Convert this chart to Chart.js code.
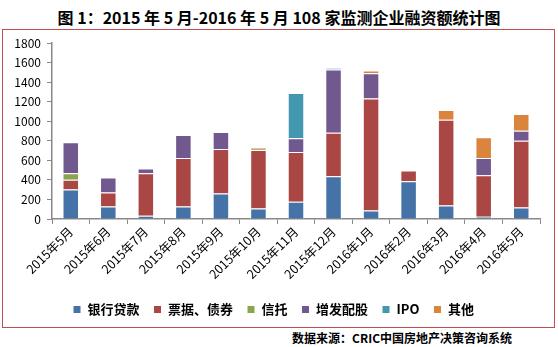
<!DOCTYPE html>
<html>
<head>
<meta charset="utf-8">
<script src="https://cdn.jsdelivr.net/npm/chart.js@4.4.1/dist/chart.umd.min.js"></script>
<style>
  body { margin: 0; background: #fff; width: 558px; height: 347px; position: relative; overflow: hidden; }
  #title { position: absolute; left: 0; top: 5px; width: 558px; text-align: center;
           font: bold 16px "Noto Sans CJK SC", sans-serif; color: #000; }
  #box { position: absolute; left: 2px; top: 29px; width: 551px; height: 297px; border: 1px solid #c0504d; }
  #source { position: absolute; right: 46px; top: 329px;
            font: bold 12px "Noto Sans CJK SC", sans-serif; color: #000; }
</style>
</head>
<body>
<div id="title">图 1：2015 年 5 月-2016 年 5 月 108 家监测企业融资额统计图</div>
<div id="box"><canvas id="myChart" width="551" height="297"></canvas></div>
<div id="source">数据来源：CRIC中国房地产决策咨询系统</div>
<script>
//categories
const months = ['2015年5月', '2015年6月', '2015年7月', '2015年8月', '2015年9月', '2015年10月', '2015年11月',
    '2015年12月', '2016年1月', '2016年2月', '2016年3月', '2016年4月', '2016年5月'];

//series values
const bankLoans = [303, 128, 34, 128, 262, 107, 176, 438, 86, 386, 138, 24, 117];
const bonds = [100, 144, 435, 496, 455, 600, 510, 445, 1148, 110, 879, 424, 683];
const trust = [66, 0, 0, 0, 0, 12, 0, 0, 0, 0, 0, 0, 0];
const placement = [317, 152, 48, 235, 173, 0, 142, 648, 259, 0, 0, 176, 103];
const ipo = [0, 0, 0, 0, 0, 0, 462, 17, 0, 0, 0, 0, 0];
const others = [0, 0, 0, 0, 0, 14, 0, 0, 28, 0, 100, 214, 173];

const font = '"Noto Sans CJK SC", sans-serif';

function series(label, data, color) {
    return {
        label: label,
        data: data,
        backgroundColor: color,
        borderColor: '#ffffff',
        borderWidth: 1,
        barPercentage: 0.44,
        categoryPercentage: 1
    };
}

const ctx = document.getElementById('myChart').getContext('2d');
const chart = new Chart(ctx, {
    type: 'bar',
    data: {
        labels: months,
        datasets: [
            series('银行贷款', bankLoans, '#4572a7'),
            series('票据、债券', bonds, '#aa4643'),
            series('信托', trust, '#89a54e'),
            series('增发配股', placement, '#71588f'),
            series('IPO', ipo, '#4198af'),
            series('其他', others, '#db843d')
        ]
    },
    options: {
        responsive: false,
        animation: false,
        layout: { padding: { left: 4, top: 4, right: 14, bottom: 1 } },
        scales: {
            x: {
                stacked: true,
                grid: { offset: true, drawOnChartArea: false, color: '#888', tickLength: 5 },
                border: { color: '#888', width: 1.5 },
                ticks: { font: { family: font, size: 12.5 }, color: '#000', maxRotation: 45, minRotation: 45, padding: 0 },
                afterFit: function (scale) { scale.height = 70; }
            },
            y: {
                stacked: true,
                min: 0,
                max: 1800,
                ticks: {
                    stepSize: 200, font: { family: font, size: 12 }, color: '#000', padding: 6,
                    callback: function (value) { return String(value); }
                },
                grid: { drawOnChartArea: false, color: '#888', tickLength: 5 },
                border: { color: '#888', width: 1.5 },
                afterFit: function (scale) { scale.width = 45; }
            }
        },
        plugins: {
            legend: {
                position: 'bottom',
                labels: { font: { family: font, size: 13, weight: 'bold' }, color: '#000', boxWidth: 8, boxHeight: 8, padding: 14 }
            },
            tooltip: { enabled: false }
        }
    }
});
</script>
</body>
</html>
